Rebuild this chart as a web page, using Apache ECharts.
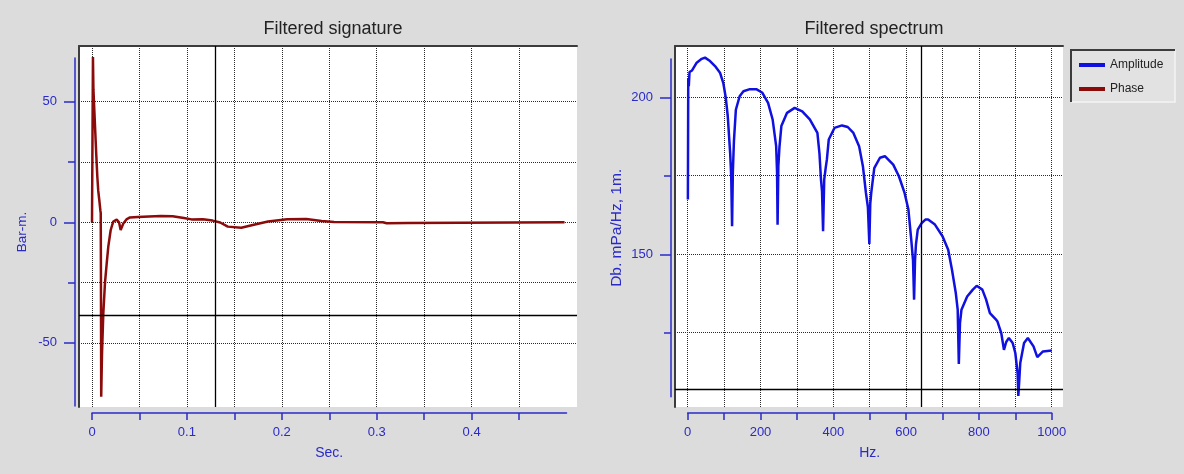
<!DOCTYPE html>
<html><head><meta charset="utf-8">
<script src="https://cdn.jsdelivr.net/npm/echarts@6/dist/echarts.min.js"></script>
<style>html,body{margin:0;padding:0;background:#dcdcdc;}#c{width:1184px;height:474px;}</style>
</head><body><div id="c"></div>
<script>
// ---- Filtered signature (Bar-m. vs Sec.) ----
const sigTime = [0, 0.0003, 0.001, 0.0015, 0.0025, 0.0035, 0.0045, 0.0056, 0.0066, 0.0077,
  0.0088, 0.0092, 0.0094, 0.0097, 0.0105, 0.0119, 0.0137, 0.0155, 0.0172, 0.0197,
  0.0224, 0.0242, 0.026, 0.0285, 0.0302, 0.033, 0.0363, 0.04, 0.0484, 0.06,
  0.0726, 0.085, 0.0968, 0.1048, 0.1169, 0.127, 0.1351, 0.1431, 0.1573, 0.1694,
  0.1855, 0.2056, 0.2258, 0.2419, 0.255, 0.3065, 0.3105, 0.3327, 0.3347, 0.498];
const sigValue = [0, 0, 68.5, 55, 46, 37, 28, 19, 13, 9.2,
  5, 3.8, -20, -72.3, -55, -38, -25, -17, -10, -3.2,
  0.3, 0.5, 1.1, 0, -3.2, -0.5, 1.2, 2.0, 2.2, 2.4,
  2.6, 2.5, 1.8, 1.2, 1.3, 0.7, -0.1, -1.8, -2.3, -1.1,
  0.3, 1.3, 1.4, 0.5, 0.1, 0, -0.4, -0.3, 0, 0];
const sigXTicks = [0, 0.05, 0.1, 0.15, 0.2, 0.25, 0.3, 0.35, 0.4, 0.45];
const sigXLabels = [0, 0.1, 0.2, 0.3, 0.4];
const sigYGrid = [-50, -25, 0, 25, 50];
const sigYMajor = [-50, 0, 50];
const sigYMinor = [-25, 25];
const sigCursorX = 0.129;
const sigCursorY = -38.4;

// ---- Filtered spectrum (Db. mPa/Hz, 1m. vs Hz.) ----
const ampFreq = [0.5, 1.5, 3, 5, 8, 12, 15.4, 24.7, 38.5, 47.5,
  61.3, 75, 88.7, 97.8, 104.4, 110, 116.7, 119.5, 121.9, 124,
  127, 132.3, 142.7, 153.1, 168.8, 189.6, 205.2, 220.8, 233.3, 243,
  245.5, 246.9, 249, 252, 257.3, 272.9, 293.8, 314.6, 335.4, 356.3,
  362, 366, 369, 371.9, 375, 379, 382.3, 387.5, 403.1, 423.9,
  439.6, 455.2, 470.8, 481.3, 489.6, 495, 499, 501.5, 504.2, 512.5,
  528.1, 541.7, 564.6, 580.2, 595.8, 606.3, 614.6, 619, 621.9, 624.5,
  627, 632, 642.7, 653, 660.4, 679.2, 700, 715.6, 726, 736.5,
  741.7, 744.8, 748, 752.1, 767.7, 783.3, 793.8, 809.4, 819.8, 830.2,
  845.8, 851, 861.5, 868.8, 875, 882.3, 892.7, 900, 906.3, 908.3,
  911, 913.6, 924, 934.4, 950, 960.4, 976, 1000];
const ampValue = [167.4, 206, 203.5, 208, 207.5, 208.5, 208.8, 211, 212.2, 212.6,
  211.5, 209.9, 207.8, 204.5, 200, 194, 182, 175, 158.9, 176,
  186, 196, 200.3, 201.9, 202.5, 202.5, 201.4, 198.2, 192.9, 184.4,
  176, 159.4, 178, 184, 190.8, 195, 196.6, 195.5, 192.9, 188.6,
  182, 174, 170, 157.3, 173.7, 177.4, 180.1, 186.5, 190.2, 191,
  190.5, 188.6, 184.4, 178, 169.5, 165, 153.2, 166, 169.5, 177.4,
  180.7, 181.2, 178.5, 174.8, 169.5, 164.2, 154, 148, 135.5, 148,
  153, 157.8, 159.9, 161, 161, 159.4, 155.7, 151.4, 145, 137.6,
  132.3, 115, 128, 132.3, 136.5, 138.7, 139.9, 138.7, 135.5, 131.2,
  129.3, 128.5, 124.8, 119.5, 122, 123.3, 121.7, 118.5, 112.1, 104.8,
  110, 115.3, 121.7, 123.3, 120.6, 117.2, 119, 119.3];
const specXTicks = [0, 100, 200, 300, 400, 500, 600, 700, 800, 900, 1000];
const specXLabels = [0, 200, 400, 600, 800, 1000];
const specYGrid = [125, 150, 175, 200];
const specYMajor = [150, 200];
const specYMinor = [125, 175];
const specCursorX = 641;
const specCursorY = 107.1;

const BLUE = '#2a2ac8';
const FONT = '"Liberation Sans", Arial, sans-serif';
const dotted = {color: '#2a2a2a', width: 1, type: [1, 1]};
const hiddenAxis = (g) => ({gridIndex: g, type: 'value', show: false, min: 0, max: 1});

function blueX(g, min, max, ticks, labels, name) {
  return {gridIndex: g, type: 'value', min: min, max: max, position: 'bottom',
    axisLine: {show: true, onZero: false, lineStyle: {color: BLUE, width: 1.5}},
    axisTick: {show: true, length: 7, customValues: ticks, lineStyle: {color: BLUE, width: 1.5}},
    axisLabel: {show: true, customValues: labels, margin: 13, color: BLUE, fontSize: 13, fontFamily: FONT,
      formatter: v => String(v)},
    splitLine: {show: false},
    name: name, nameLocation: 'middle', nameGap: 33,
    nameTextStyle: {color: BLUE, fontSize: 14, fontFamily: FONT}};
}
function blueY(g, min, max, ticks, labels, len, showLine, name, gap, nameSize) {
  return {gridIndex: g, type: 'value', min: min, max: max, position: 'left',
    axisLine: {show: showLine, onZero: false, lineStyle: {color: BLUE, width: 1.5}},
    axisTick: {show: true, length: len, customValues: ticks, lineStyle: {color: BLUE, width: 1.5}},
    axisLabel: {show: labels.length > 0, customValues: labels.length ? labels : undefined, margin: 18,
      color: BLUE, fontSize: 13, fontFamily: FONT, formatter: v => String(v)},
    splitLine: {show: false},
    name: name || '', nameLocation: 'middle', nameGap: gap || 0, nameRotate: 90,
    nameTextStyle: {color: BLUE, fontSize: nameSize || 14, fontFamily: FONT}};
}
function mainX(g, min, max, ticks) {
  return {gridIndex: g, type: 'value', min: min, max: max, position: 'top',
    axisLine: {show: true, onZero: false, lineStyle: {color: '#3c3c3c', width: 2}},
    axisTick: {show: false, customValues: ticks}, axisLabel: {show: false},
    splitLine: {show: true, lineStyle: dotted}};
}
function mainY(g, min, max, ticks) {
  return {gridIndex: g, type: 'value', min: min, max: max, position: 'left',
    axisLine: {show: true, onZero: false, lineStyle: {color: '#3c3c3c', width: 2}},
    axisTick: {show: false, customValues: ticks}, axisLabel: {show: false},
    splitLine: {show: true, lineStyle: dotted}};
}
const cursorStyle = {color: '#000', width: 1.3, type: 'solid'};

const chart = echarts.init(document.getElementById('c'), null, {renderer: 'canvas'});
chart.setOption({
  animation: false,
  backgroundColor: '#dcdcdc',
  textStyle: {fontFamily: FONT},
  title: [
    {text: 'Filtered signature', left: 328, top: 15, textAlign: 'center',
      textStyle: {fontSize: 18, fontWeight: 'normal', color: '#222', fontFamily: FONT}},
    {text: 'Filtered spectrum', left: 869, top: 15, textAlign: 'center',
      textStyle: {fontSize: 18, fontWeight: 'normal', color: '#222', fontFamily: FONT}}
  ],
  legend: {
    orient: 'vertical', left: 1079, top: 58, padding: 0, itemGap: 10,
    itemWidth: 26, itemHeight: 4, icon: 'rect',
    textStyle: {fontSize: 12, color: '#222', fontFamily: FONT, lineHeight: 14},
    data: ['Amplitude', 'Phase']
  },
  graphic: [
    {type: 'rect', shape: {x: 1071, y: 50, width: 104, height: 52}, style: {fill: '#e2e2e2'}, z: -1},
    {type: 'polyline', shape: {points: [[1071, 102], [1175, 102], [1175, 50]]}, style: {stroke: '#f4f4f4', lineWidth: 1.5, fill: null}},
    {type: 'polyline', shape: {points: [[1071, 102], [1071, 50], [1175, 50]]}, style: {stroke: '#3c3c3c', lineWidth: 2, fill: null}}
  ],
  grid: [
    {left: 79, top: 46, width: 498, height: 361, show: true, backgroundColor: '#fff', borderWidth: 0},
    {left: 92, top: 300, width: 474.5, height: 113},
    {left: 75, top: 58, width: 5, height: 348},
    {left: 675, top: 46, width: 388, height: 361, show: true, backgroundColor: '#fff', borderWidth: 0},
    {left: 687.7, top: 300, width: 364, height: 113},
    {left: 671, top: 59, width: 5, height: 337.7}
  ],
  xAxis: [
    mainX(0, -0.0137, 0.5111, sigXTicks),
    blueX(1, 0, 0.5, sigXTicks, sigXLabels, 'Sec.'),
    hiddenAxis(2),
    mainX(3, -34.9, 1031, specXTicks),
    blueX(4, 0, 1000, specXTicks, specXLabels, 'Hz.'),
    hiddenAxis(5)
  ],
  yAxis: [
    mainY(0, -76.6, 73.1, sigYGrid),
    hiddenAxis(1),
    blueY(2, -76.2, 68.2, sigYMajor, sigYMajor, 11, true, 'Bar-m.', 46, 13.5),
    blueY(2, -76.2, 68.2, sigYMinor, [], 7, false),
    mainY(3, 101.3, 216.3, specYGrid),
    hiddenAxis(4),
    blueY(5, 104.7, 212.3, specYMajor, specYMajor, 11, true, 'Db. mPa/Hz, 1m.', 46, 15.5),
    blueY(5, 104.7, 212.3, specYMinor, [], 7, false)
  ],
  series: [
    {name: 'Signature', type: 'line', xAxisIndex: 0, yAxisIndex: 0, showSymbol: false,
      data: sigTime.map((t, i) => [t, sigValue[i]]),
      lineStyle: {color: '#8b0a0a', width: 2.5}, itemStyle: {color: '#8b0a0a'},
      markLine: {silent: true, symbol: ['none', 'none'], label: {show: false}, lineStyle: cursorStyle,
        data: [{xAxis: sigCursorX}, {yAxis: sigCursorY}]}},
    {name: 'Amplitude', type: 'line', xAxisIndex: 3, yAxisIndex: 4, showSymbol: false,
      data: ampFreq.map((f, i) => [f, ampValue[i]]),
      lineStyle: {color: '#1010e0', width: 2.5}, itemStyle: {color: '#1010e0'},
      markLine: {silent: true, symbol: ['none', 'none'], label: {show: false}, lineStyle: cursorStyle,
        data: [{xAxis: specCursorX}, {yAxis: specCursorY}]}},
    {name: 'Phase', type: 'line', xAxisIndex: 3, yAxisIndex: 4, showSymbol: false, data: [],
      lineStyle: {color: '#8b0a0a', width: 2.5}, itemStyle: {color: '#8b0a0a'}}
  ]
});
</script></body></html>
